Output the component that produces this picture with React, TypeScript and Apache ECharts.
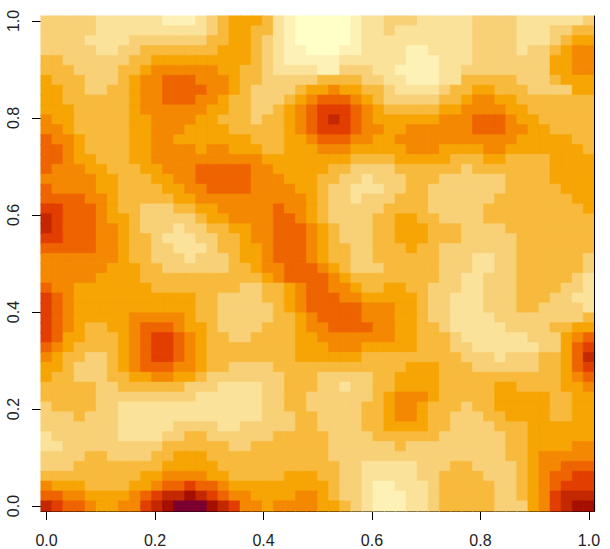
import React, { useEffect, useRef } from "react";
import * as echarts from "echarts";

// Each row (top to bottom) is a run list "startColumn:level".
const cellRows: string[] = [
  "0:3 5:2 11:1 14:2 15:3 16:4 17:5 20:4 21:2 22:1 23:0 28:1 29:2 31:3 34:2 39:3 43:2 49:3",
  "0:3 5:2 15:3 16:4 17:5 19:4 21:2 22:1 23:0 28:1 29:2 31:3 32:2 39:3 43:2 46:3 48:4",
  "0:3 4:2 8:3 15:4 17:5 19:4 20:3 21:2 22:1 23:0 28:1 29:2 39:3 43:2 46:3 47:4 48:5",
  "0:3 5:2 7:3 9:4 16:5 19:4 20:3 21:2 22:1 24:0 27:1 29:2 33:1 35:2 39:3 43:2 44:3 46:4 47:5 48:6",
  "0:4 2:3 8:4 10:5 19:4 20:3 21:2 22:1 27:2 33:1 36:2 39:3 46:5 48:6",
  "0:4 3:3 7:4 9:5 10:6 16:5 18:4 20:3 21:2 25:1 27:3 30:2 32:1 36:2 38:3 46:5 48:6",
  "0:5 1:4 4:3 7:4 8:5 9:6 11:7 14:6 17:5 18:4 20:3 25:4 29:3 31:2 33:1 36:2 38:4 43:3 46:4 47:5",
  "0:5 2:4 4:3 6:4 8:5 9:6 11:7 15:6 17:5 18:4 19:3 23:4 24:5 26:6 27:5 29:4 31:3 32:2 36:3 37:4 39:5 41:4 44:3 48:5",
  "0:5 2:4 8:5 9:6 11:7 14:6 16:5 17:4 19:3 22:4 23:5 24:6 25:7 28:6 29:5 30:4 31:3 36:4 38:5 39:6 41:5 43:4",
  "0:5 3:4 8:5 9:6 15:5 17:4 19:3 21:4 22:5 23:6 24:7 25:8 28:7 29:6 30:5 31:4 36:5 38:6 42:5 44:4",
  "0:6 1:5 3:4 8:5 10:6 14:5 16:4 19:3 20:4 22:5 23:6 24:7 25:8 26:9 27:8 28:7 29:6 30:5 36:6 39:7 42:6 43:5 45:4",
  "0:6 2:5 3:4 8:5 10:6 13:5 17:4 22:5 23:6 24:7 25:8 28:7 29:6 31:5 33:6 39:7 42:6 44:5 46:4",
  "0:7 1:6 3:5 4:4 8:5 10:6 12:5 19:4 22:5 24:6 25:7 28:6 30:5 32:6 43:5 48:4",
  "0:7 2:6 3:5 4:4 8:5 10:6 14:5 15:6 17:5 20:4 22:5 25:6 28:5 33:6 36:5 40:6 42:5 49:4",
  "0:7 2:6 3:5 5:4 8:5 10:6 20:5 28:4 32:5 37:4 40:5 42:4 46:5",
  "0:7 1:6 4:5 6:4 9:5 11:6 14:7 19:6 21:5 26:4 28:3 32:4 38:3 39:4 46:5",
  "0:6 5:5 7:4 10:5 12:6 14:7 19:6 22:5 25:4 27:3 29:2 30:3 33:4 36:3 42:4 46:5",
  "0:7 1:6 5:5 7:4 11:5 13:6 15:7 19:6 23:5 25:4 26:3 28:2 31:3 33:4 35:3 42:4 47:5",
  "0:7 4:6 6:5 7:4 12:5 14:6 24:5 25:4 26:3 28:2 29:3 32:4 35:3 41:4 48:5",
  "0:8 2:7 5:6 6:5 7:4 9:3 12:4 14:5 16:6 21:7 22:6 24:5 25:4 26:3 31:4 35:3 40:4 49:5",
  "0:9 1:8 2:7 5:6 6:5 8:4 9:3 14:4 15:5 17:6 21:7 23:6 24:5 25:4 26:3 30:4 32:5 34:4 36:3 40:4",
  "0:9 1:8 2:7 5:6 7:5 8:4 9:3 12:2 13:3 15:4 17:5 19:6 21:7 24:6 25:5 26:4 27:3 30:4 32:5 35:4 38:3 42:4",
  "0:8 2:7 5:6 7:5 8:4 10:3 11:2 14:3 16:4 18:5 19:6 21:7 24:6 25:5 26:4 27:3 30:4 32:5 35:4 38:3 43:4",
  "0:7 5:6 7:5 8:4 10:3 12:2 15:3 16:4 18:5 20:6 21:7 24:6 25:5 26:4 28:3 30:4 33:5 34:4 36:3 43:4",
  "0:6 7:5 8:4 10:3 13:2 14:3 17:4 18:5 20:6 21:7 24:6 25:5 26:4 28:3 30:4 36:3 39:2 41:3 43:4 49:3",
  "0:6 6:5 9:4 11:3 17:4 19:5 20:6 22:7 25:6 26:5 27:4 28:3 31:4 36:3 39:2 41:3 43:4 49:3",
  "0:6 5:5 9:4 20:5 21:6 22:7 26:6 27:5 28:4 36:3 38:2 40:3 43:4 48:3 49:2",
  "0:7 1:6 3:5 10:4 18:3 20:4 22:5 23:6 24:7 26:6 28:5 29:4 31:5 33:4 35:3 38:2 40:3 43:4 47:3 49:2",
  "0:8 1:7 2:6 3:5 14:4 16:3 20:4 22:5 23:6 24:7 27:6 29:5 34:4 35:3 37:2 40:3 43:4 46:3 48:2",
  "0:8 1:7 2:6 3:5 14:4 16:3 21:4 22:5 23:6 24:7 29:6 32:5 34:4 35:3 37:2 40:3 43:4 45:3 49:2",
  "0:8 1:7 2:6 3:5 8:6 13:5 14:4 16:3 21:4 23:5 24:6 25:7 29:6 32:5 34:4 35:3 37:2 41:3 49:4",
  "0:8 1:7 2:6 3:5 4:4 6:5 8:6 9:7 12:6 13:5 15:4 16:3 20:4 23:5 24:6 26:7 30:6 32:5 34:4 36:3 37:2 42:3 46:4 48:5",
  "0:8 1:7 2:5 4:4 7:5 8:6 9:7 10:8 12:7 13:6 14:5 15:4 17:3 19:4 23:5 25:6 32:5 34:4 37:3 38:2 44:3 47:5 48:6 49:7",
  "0:7 1:6 2:5 3:4 7:5 8:6 9:7 10:8 12:7 13:6 14:5 15:4 23:5 26:6 29:5 34:4 37:3 39:2 45:3 47:5 48:7 49:8",
  "0:6 1:5 2:4 4:3 6:4 7:5 8:6 9:7 10:8 12:7 13:6 14:5 15:4 23:5 29:4 38:3 41:2 42:3 45:4 47:5 48:7 49:9",
  "0:5 2:4 3:3 6:4 7:5 8:6 9:7 12:6 14:5 15:4 17:3 21:4 33:5 36:4 39:3 45:4 47:5 48:7 49:8",
  "0:5 1:4 3:3 6:4 8:5 10:6 12:5 14:4 15:3 22:4 25:3 30:4 32:5 36:4 47:5 48:6 49:7",
  "0:4 5:3 7:4 13:3 16:2 20:3 22:4 25:3 27:2 28:3 30:4 32:5 36:4 41:5 43:4 47:5 49:6",
  "0:4 5:3 14:2 20:3 22:4 24:3 30:4 31:5 32:6 35:5 36:4 41:5 46:4 48:5",
  "0:3 1:4 5:3 7:2 20:3 22:4 24:3 29:4 31:5 32:6 34:5 35:4 38:3 39:4 41:5 46:4 48:5",
  "0:3 3:4 4:3 7:2 20:3 23:4 25:3 29:4 31:5 32:6 34:5 35:4 37:3 40:4 42:5 46:4 48:5",
  "0:3 7:2 12:3 16:2 18:3 23:4 25:3 29:4 31:5 35:4 37:3 41:4 44:5",
  "0:2 1:3 7:2 11:3 13:4 15:3 21:4 26:3 30:4 36:3 42:4 44:5",
  "0:2 2:3 11:4 17:3 19:4 26:3 32:4 33:3 42:4 44:5 48:6",
  "0:3 4:4 6:3 10:4 12:5 15:4 26:3 42:4 44:5 45:6",
  "0:3 3:4 11:5 16:4 27:3 29:2 34:3 37:4 39:3 43:4 44:5 45:6 47:7",
  "0:4 9:5 11:6 15:5 17:4 22:5 25:4 27:3 29:2 34:3 36:4 40:3 43:4 44:5 45:6 46:7 48:8",
  "0:6 1:5 4:4 8:5 10:6 11:7 13:8 14:7 16:6 17:5 26:4 27:3 29:2 30:1 32:2 35:3 36:4 41:3 43:4 44:5 45:6 46:7 47:8",
  "0:7 2:6 4:5 8:6 9:7 10:8 11:9 13:10 14:9 15:8 16:7 17:6 19:5 23:6 25:5 26:4 27:3 29:2 30:1 33:2 35:3 36:4 41:3 43:4 44:5 45:6 46:8 47:9",
  "0:9 1:8 2:7 4:6 5:5 7:6 9:8 10:9 11:10 12:11 15:10 16:9 17:8 18:6 20:5 21:6 25:5 27:4 28:3 29:2 30:1 33:2 35:3 36:4 41:3 44:5 45:6 46:8 47:9 48:10",
];

const levelColors: string[] = [
  "#FFFFC8", "#FEF1B6", "#FBE29A", "#F8D077", "#F8BA3C", "#F6A504",
  "#F58803", "#EE6400", "#E23E00", "#C32800", "#A50F00", "#7A0030",
];
const tickValues: number[] = [0, 0.2, 0.4, 0.6, 0.8, 1];
const columnCount = 50;
const rowCount = cellRows.length;

function buildCells() {
  const cells: any[] = [];
  cellRows.forEach((row, r) => {
    const runs = row.split(" ").map((s) => s.split(":").map(Number));
    runs.forEach(([start, level], i) => {
      const end = i + 1 < runs.length ? runs[i + 1][0] : columnCount;
      for (let c = start; c < end; c++) {
        cells.push({
          value: [c, rowCount - 1 - r, level],
          itemStyle: { color: levelColors[level], borderColor: levelColors[level], borderWidth: 0.5 },
        });
      }
    });
  });
  return cells;
}

const indexLabels = (n: number) => Array.from({ length: n }, (_, i) => String(i));
const half = 1 / 98;
const fontFamily = "'Liberation Sans', Arial, sans-serif";
const tickFormatter = (v: number) => v.toFixed(1);

export default function App() {
  const ref = useRef<HTMLDivElement>(null);
  useEffect(() => {
    const chart = echarts.init(ref.current!, undefined, { renderer: "svg" });
    chart.setOption({
      animation: false,
      backgroundColor: "#ffffff",
      grid: { left: 41, top: 16, width: 553.5, height: 495, containLabel: false },
      visualMap: {
        show: false,
        type: "piecewise",
        dimension: 2,
        seriesIndex: 0,
        pieces: levelColors.map((color, i) => ({ value: i, color })),
      },
      xAxis: [
        {
          type: "category",
          data: indexLabels(columnCount),
          show: false,
          boundaryGap: true,
        },
        {
          type: "value",
          position: "bottom",
          min: -half,
          max: 1 + half,
          splitLine: { show: false },
          axisLine: { show: true, onZero: false, lineStyle: { color: "#000", width: 1 } },
          axisTick: { show: true, length: 9, customValues: tickValues, lineStyle: { color: "#000", width: 1 } },
          axisLabel: {
            show: true,
            customValues: tickValues,
            formatter: tickFormatter,
            margin: 21,
            color: "#222",
            fontSize: 16,
            fontFamily,
            showMinLabel: true,
            showMaxLabel: true,
          },
        },
      ],
      yAxis: [
        {
          type: "category",
          data: indexLabels(rowCount),
          position: "right",
          boundaryGap: true,
          z: 5,
          axisLine: { show: true, onZero: false, lineStyle: { color: "#000", width: 1 } },
          axisTick: { show: false },
          axisLabel: { show: false },
          splitLine: { show: false },
        },
        {
          type: "value",
          position: "left",
          min: -half,
          max: 1 + half,
          splitLine: { show: false },
          axisLine: { show: false, onZero: false },
          axisTick: { show: true, length: 9, customValues: tickValues, lineStyle: { color: "#000", width: 1 } },
          axisLabel: {
            show: true,
            customValues: tickValues,
            formatter: tickFormatter,
            rotate: 90,
            margin: 20,
            color: "#222",
            fontSize: 16,
            fontFamily,
            showMinLabel: true,
            showMaxLabel: true,
          },
        },
      ],
      series: [
        {
          type: "heatmap",
          xAxisIndex: 0,
          yAxisIndex: 0,
          data: buildCells(),
          progressive: 0,
          emphasis: { disabled: true },
        },
      ],
    });
    return () => chart.dispose();
  }, []);
  return (
    <div
      ref={ref}
      style={{ position: "fixed", left: 0, top: 0, width: 610, height: 549, background: "#fff" }}
    />
  );
}
